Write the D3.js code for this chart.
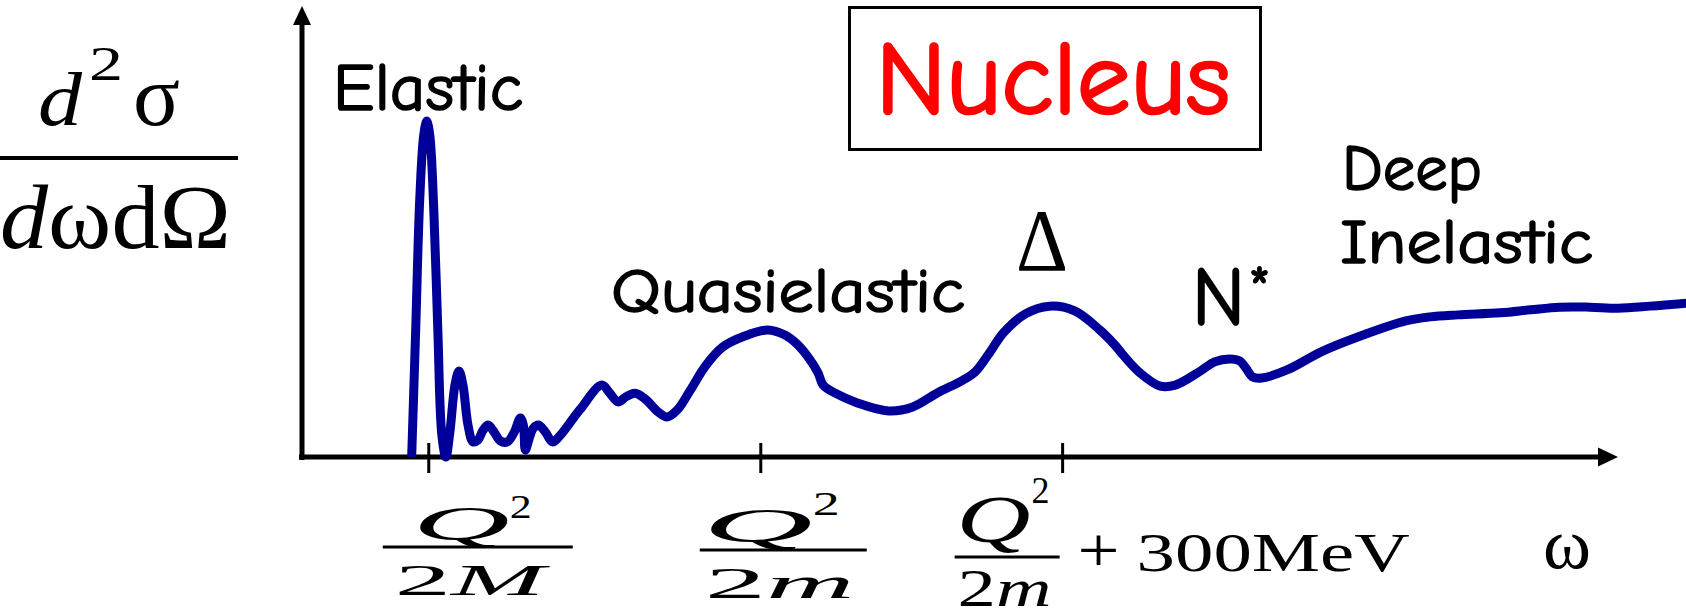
<!DOCTYPE html>
<html>
<head>
<meta charset="utf-8">
<script src="https://cdn.jsdelivr.net/npm/d3@7"></script>
<style>
  html, body { margin: 0; padding: 0; background: #fff; }
  svg { display: block; }
</style>
</head>
<body>
<script>
// Energy transfer ω (MeV, arbitrary origin) and response (arbitrary units, elastic peak = 1)
const omega = [
  108, 112, 116, 120, 123, 126, 130, 134, 138, 142,
  146, 151, 155, 159, 164, 169, 174, 179, 184, 190,
  196, 203, 210, 216, 219, 221, 225, 229, 234, 241,
  248, 255, 275, 297, 305, 313, 321, 330, 340, 353,
  362, 372, 385, 400, 417, 439, 462, 479, 491, 504,
  512, 517, 529, 551, 582, 606, 630, 656, 668, 683,
  696, 718, 742, 767, 792, 807, 815, 832, 852, 867,
  892, 906, 921, 931, 937, 944, 953, 978, 1012, 1051,
  1096, 1120, 1148, 1190, 1220, 1249, 1279, 1307, 1339, 1375
];
const response = [
  0.000, 0.378, 0.765, 0.958, 1.000, 0.958, 0.735, 0.378, 0.065, 0.000,
  0.074, 0.214, 0.256, 0.214, 0.095, 0.045, 0.051, 0.080, 0.095, 0.074,
  0.048, 0.045, 0.074, 0.116, 0.095, 0.021, 0.057, 0.086, 0.095, 0.074,
  0.045, 0.062, 0.140, 0.214, 0.190, 0.164, 0.179, 0.190, 0.173, 0.134,
  0.119, 0.140, 0.199, 0.271, 0.327, 0.360, 0.378, 0.363, 0.336, 0.289,
  0.250, 0.214, 0.190, 0.161, 0.137, 0.149, 0.190, 0.229, 0.253, 0.313,
  0.369, 0.426, 0.449, 0.435, 0.378, 0.333, 0.304, 0.250, 0.211, 0.214,
  0.256, 0.283, 0.292, 0.286, 0.265, 0.238, 0.235, 0.259, 0.313, 0.360,
  0.405, 0.417, 0.423, 0.429, 0.438, 0.446, 0.446, 0.443, 0.449, 0.458
];
// Tick positions on the ω axis: Q²/2M, Q²/2m, Q²/2m + 300 MeV
const tickOmega = [125, 455, 755];
const tickNumerator = ["Q", "Q", "Q"];
const tickDenominator = [["2", "M"], ["2", "m"], ["2", "m"]];
const tickSuffix = ["", "", "300MeV"];
const regionNames = ["Elastic", "Quasielastic", "Δ", "N", "Deep", "Inelastic"];
const titleText = "Nucleus";

const W = 1686, H = 616;
const COMIC = "'Comic Sans MS','Comic Neue','DejaVu Sans',sans-serif";
const SERIF = "'Times New Roman','Liberation Serif',serif";
const CURVE = "#000099";

const svg = d3.select("body").append("svg")
  .attr("width", W).attr("height", H)
  .attr("viewBox", `0 0 ${W} ${H}`);
svg.append("rect").attr("width", W).attr("height", H).attr("fill", "#fff");

const x = d3.scaleLinear().domain([0, 1306]).range([303, 1617]);
const y = d3.scaleLinear().domain([0, 1]).range([457, 121]);

function txt(px, py, str, o = {}) {
  const t = svg.append("text")
    .attr("x", px).attr("y", py)
    .attr("font-family", o.family || COMIC)
    .attr("font-size", o.size || 60)
    .attr("font-style", o.style || "normal")
    .attr("fill", o.fill || "#000")
    .attr("text-anchor", o.anchor || "start")
    .text(str);
  if (o.len) t.attr("textLength", o.len).attr("lengthAdjust", "spacingAndGlyphs");
  if (o.heavy) t.attr("stroke", o.fill || "#000").attr("stroke-width", o.heavy).attr("stroke-linejoin", "round");
  return t;
}

// ---- axes ----
const axisY = x(0) - 1;
const axisX = y(0);
svg.append("line").attr("x1", axisY).attr("x2", axisY)
  .attr("y1", axisX + 3).attr("y2", 22)
  .attr("stroke", "#000").attr("stroke-width", 5);
svg.append("path").attr("d", `M${axisY},6 L${axisY - 9},25 L${axisY + 9},25 Z`).attr("fill", "#000");

svg.append("line").attr("x1", axisY - 3).attr("x2", x(1306) - 18)
  .attr("y1", axisX).attr("y2", axisX)
  .attr("stroke", "#000").attr("stroke-width", 5);
const xEnd = x(1306);
svg.append("path").attr("d", `M${xEnd + 1},${axisX} L${xEnd - 19},${axisX - 9.5} L${xEnd - 19},${axisX + 9.5} Z`).attr("fill", "#000");

svg.selectAll("line.tick").data(tickOmega).join("line")
  .attr("class", "tick")
  .attr("x1", d => x(d)).attr("x2", d => x(d))
  .attr("y1", axisX - 14).attr("y2", axisX + 16)
  .attr("stroke", "#000").attr("stroke-width", 3);

// ---- response curve ----
const pts = omega.map((w, i) => [w, response[i]]);
svg.append("path")
  .datum(pts)
  .attr("d", d3.line().x(d => x(d[0])).y(d => y(d[1])).curve(d3.curveCatmullRom.alpha(0.5)))
  .attr("fill", "none")
  .attr("stroke", CURVE)
  .attr("stroke-width", 9)
  .attr("stroke-linejoin", "round")
  .attr("stroke-linecap", "butt");

// ---- y-axis label: d²σ / dω dΩ ----
txt(38, 125, "d", { family: SERIF, style: "italic", size: 76, len: 44 });
txt(89, 80, "2", { family: SERIF, size: 48, len: 34 });
txt(133, 125, "σ", { family: SERIF, size: 86, len: 47 });
svg.append("line").attr("x1", 0).attr("x2", 238).attr("y1", 158).attr("y2", 158)
  .attr("stroke", "#000").attr("stroke-width", 4);
{
  const t = svg.append("text").attr("x", 0).attr("y", 248)
    .attr("font-family", SERIF).attr("font-size", 90)
    .attr("textLength", 231).attr("lengthAdjust", "spacingAndGlyphs");
  t.append("tspan").attr("font-style", "italic").text("d");
  t.append("tspan").text("ωdΩ");
}

// ---- title box ----
svg.append("rect").attr("x", 849.5).attr("y", 7.5).attr("width", 411).attr("height", 142)
  .attr("fill", "#fff").attr("stroke", "#000").attr("stroke-width", 3);
txt(1053, 113, titleText, { size: 104, fill: "#ff0000", anchor: "middle", len: 355, heavy: 2.5 });

// ---- region labels ----
txt(333, 110, regionNames[0], { size: 66, len: 190, heavy: 1.6 });
txt(611, 312, regionNames[1], { size: 63, len: 354, heavy: 1.6 });
txt(1016, 270, regionNames[2], { family: SERIF, size: 88, len: 52 });
txt(1192, 325, regionNames[3], { size: 82, len: 53, heavy: 1.8 });
txt(1248, 311, "*", { size: 64, len: 23, heavy: 1.2 });
txt(1342, 190, regionNames[4], { size: 64, len: 140, heavy: 1.6 });
txt(1340, 263, regionNames[5], { size: 62, len: 253, heavy: 1.6 });

// ---- tick labels (fractions) ----
const fracLayout = [
  { q: [-16, 540, 48, 97], s: [81, 518, 34, 22], bar: [-46, 144, 547], den: [-34, 595, 45, 150] },
  { q: [-58, 542, 48, 110], s: [52, 515, 34, 27], bar: [-61, 106, 550], den: [-56, 598, 45, 150] },
  { q: [-106, 542, 68, 74], s: [-31, 503, 38, 18], bar: [-108, -3, 557], den: [-105, 606, 52, 94] }
];
tickOmega.forEach((w, i) => {
  const cx = x(w), L = fracLayout[i];
  txt(cx + L.q[0], L.q[1], tickNumerator[i], { family: SERIF, style: "italic", size: L.q[2], len: L.q[3] });
  txt(cx + L.s[0], L.s[1], "2", { family: SERIF, size: L.s[2], len: L.s[3] });
  svg.append("line").attr("x1", cx + L.bar[0]).attr("x2", cx + L.bar[1])
    .attr("y1", L.bar[2]).attr("y2", L.bar[2]).attr("stroke", "#000").attr("stroke-width", 3);
  const t = svg.append("text").attr("x", cx + L.den[0]).attr("y", L.den[1])
    .attr("font-family", SERIF).attr("font-size", L.den[2])
    .attr("textLength", L.den[3]).attr("lengthAdjust", "spacingAndGlyphs");
  t.append("tspan").text(tickDenominator[i][0]);
  t.append("tspan").attr("font-style", "italic").text(tickDenominator[i][1]);
  if (tickSuffix[i]) {
    txt(cx + 15, 572, "+", { family: SERIF, size: 64, len: 42 });
    txt(cx + 74, 571, tickSuffix[i], { family: SERIF, size: 55, len: 273 });
  }
});

// ---- ω axis label ----
txt(1543, 568, "ω", { family: SERIF, size: 72, len: 48 });
</script>
</body>
</html>
